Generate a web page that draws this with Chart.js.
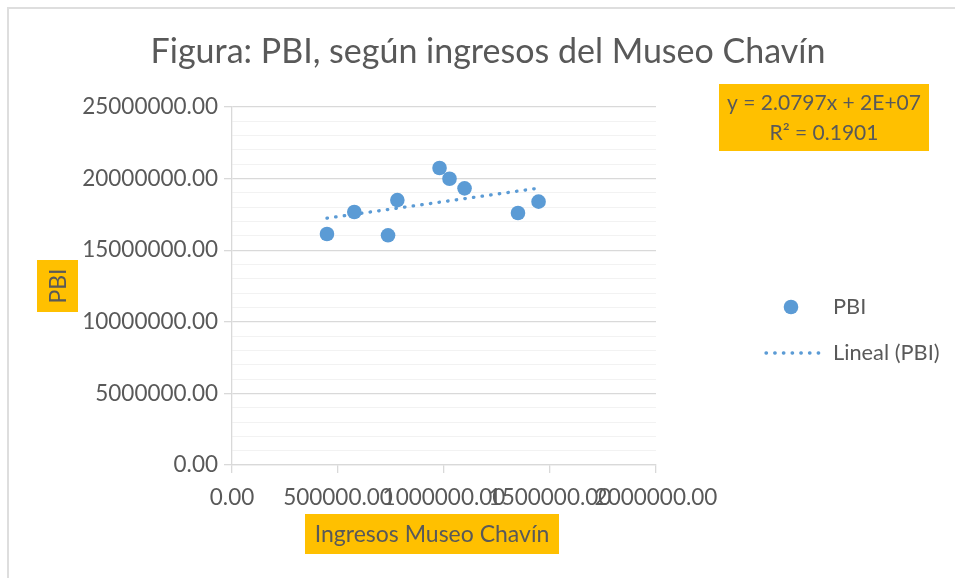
<!DOCTYPE html>
<html>
<head>
<meta charset="utf-8">
<script src="https://cdn.jsdelivr.net/npm/chart.js@4.4.1/dist/chart.umd.min.js"></script>
<style>
	html, body { margin: 0; padding: 0; background: #fff; }
	#wrap { position: relative; width: 955px; height: 578px; }
</style>
</head>
<body>
<div id="wrap"><canvas id="myChart" width="955" height="578"></canvas></div>
<script>
// ingresos del museo (x) y PBI (y)
let ingresos = [448000, 577000, 736000, 780000, 979000, 1026000, 1097000, 1349000, 1446000]
let pbi = [16130000, 17670000, 16040000, 18500000, 20740000, 19990000, 19320000, 17600000, 18390000]

let xTicks = [0, 500000, 1000000, 1500000, 2000000]
let yMajorStep = 5000000
let yMinorStep = 1000000

let titulo = 'Figura: PBI, según ingresos del Museo Chavín'
let tituloX = 'Ingresos Museo Chavín'
let tituloY = 'PBI'
let ecuacion = ['y = 2.0797x + 2E+07', 'R² = 0.1901']
let nombreSerie = 'PBI'
let nombreTendencia = 'Lineal (PBI)'

const FONT = 'Lato, "Open Sans", sans-serif'
const GRIS = '#595959'
const AZUL = '#5B9BD5'
const NARANJA = '#FFC000'

// linea de tendencia por minimos cuadrados
function regresion(xs, ys) {
	let n = xs.length
	let mx = xs.reduce((a, b) => a + b, 0) / n
	let my = ys.reduce((a, b) => a + b, 0) / n
	let sxy = 0
	let sxx = 0
	for (let i = 0; i < n; i++) {
		sxy += (xs[i] - mx) * (ys[i] - my)
		sxx += (xs[i] - mx) * (xs[i] - mx)
	}
	let m = sxy / sxx
	return { m: m, b: my - m * mx }
}

let fit = regresion(ingresos, pbi)
let xMin = Math.min(...ingresos)
let xMax = Math.max(...ingresos)
let tendencia = [
	{ x: xMin, y: fit.m * xMin + fit.b },
	{ x: xMax, y: fit.m * xMax + fit.b },
]

let puntos = ingresos.map((x, i) => ({ x: x, y: pbi[i] }))

function dotted(ctx, x1, y1, x2, y2) {
	ctx.save()
	ctx.strokeStyle = AZUL
	ctx.lineWidth = 3.3
	ctx.lineCap = 'round'
	ctx.setLineDash([0.5, 8.2])
	ctx.beginPath()
	ctx.moveTo(x1, y1)
	ctx.lineTo(x2, y2)
	ctx.stroke()
	ctx.restore()
}

const extras = {
	id: 'extras',
	beforeDraw(chart) {
		let ctx = chart.ctx
		ctx.save()
		ctx.fillStyle = '#fff'
		ctx.fillRect(0, 0, chart.width, chart.height)
		// marco del grafico
		ctx.strokeStyle = '#dedede'
		ctx.lineWidth = 2
		ctx.beginPath()
		ctx.moveTo(8, chart.height)
		ctx.lineTo(8, 8)
		ctx.lineTo(chart.width, 8)
		ctx.stroke()
		ctx.restore()
	},
	afterDraw(chart) {
		let ctx = chart.ctx
		ctx.save()
		ctx.textBaseline = 'middle'
		ctx.textAlign = 'center'

		// titulo
		ctx.fillStyle = GRIS
		ctx.font = '34px ' + FONT
		ctx.fillText(titulo, 488, 52)

		// titulo eje X
		ctx.font = '23px ' + FONT
		ctx.fillStyle = NARANJA
		ctx.fillRect(305, 514, 254, 40)
		ctx.fillStyle = GRIS
		ctx.fillText(tituloX, 432, 535)

		// titulo eje Y
		ctx.fillStyle = NARANJA
		ctx.fillRect(37, 260, 41, 52)
		ctx.save()
		ctx.translate(58, 286)
		ctx.rotate(-Math.PI / 2)
		ctx.fillStyle = GRIS
		ctx.fillText(tituloY, 0, 1)
		ctx.restore()

		// ecuacion de la tendencia
		ctx.fillStyle = NARANJA
		ctx.fillRect(719, 84, 210, 67)
		ctx.fillStyle = GRIS
		ctx.font = '21px ' + FONT
		ctx.fillText(ecuacion[0], 824, 103)
		ctx.fillText(ecuacion[1], 824, 133)

		// leyenda
		ctx.font = '21.8px ' + FONT
		ctx.textAlign = 'left'
		ctx.fillStyle = AZUL
		ctx.beginPath()
		ctx.arc(791, 307, 7.3, 0, Math.PI * 2)
		ctx.fill()
		ctx.fillStyle = GRIS
		ctx.fillText(nombreSerie, 833, 307)
		dotted(ctx, 766, 353, 823, 353)
		ctx.fillStyle = GRIS
		ctx.fillText(nombreTendencia, 833, 353)
		ctx.restore()
	},
}

var ctx = document.getElementById('myChart').getContext('2d')
var myChart = new Chart(ctx, {
	type: 'scatter',
	data: {
		datasets: [
			{
				label: nombreSerie,
				data: puntos,
				backgroundColor: AZUL,
				borderColor: AZUL,
				pointRadius: 7.3,
				pointHoverRadius: 7.3,
				borderWidth: 0,
				order: 1,
			},
			{
				label: nombreTendencia,
				type: 'line',
				data: tendencia,
				showLine: true,
				borderColor: AZUL,
				borderWidth: 3.3,
				borderDash: [0.5, 8.2],
				borderCapStyle: 'round',
				pointRadius: 0,
				fill: false,
				order: 2,
			},
		],
	},
	options: {
		responsive: false,
		animation: false,
		events: [],
		layout: { padding: { left: 0, right: 299, top: 107, bottom: 0 } },
		plugins: {
			legend: { display: false },
			tooltip: { enabled: false },
			title: { display: false },
		},
		scales: {
			x: {
				type: 'linear',
				min: 0,
				max: 2000000,
				afterBuildTicks: (scale) => {
					scale.ticks = xTicks.map((v) => ({ value: v }))
				},
				afterFit: (scale) => {
					scale.height = 113
				},
				ticks: {
					autoSkip: false,
					maxRotation: 0,
					minRotation: 0,
					padding: 11,
					color: GRIS,
					font: { family: FONT, size: 22.5 },
					callback: (v) => v.toFixed(2),
				},
				grid: {
					drawOnChartArea: false,
					drawTicks: true,
					tickLength: 8,
					color: '#d9d9d9',
					lineWidth: 1.3,
				},
				border: { display: true, color: '#d9d9d9', width: 1.3 },
			},
			y: {
				type: 'linear',
				min: 0,
				max: 25000000,
				ticks: {
					stepSize: yMinorStep,
					autoSkip: false,
					padding: 6,
					color: GRIS,
					font: { family: FONT, size: 22.5 },
					callback: (v) => (v % yMajorStep === 0 ? v.toFixed(2) : ''),
				},
				afterFit: (scale) => {
					scale.width = 232
				},
				grid: {
					tickLength: 8,
					color: (c) => (c.tick && c.tick.value % yMajorStep === 0 ? '#d9d9d9' : '#f2f2f2'),
					tickColor: (c) => (c.tick && c.tick.value % yMajorStep === 0 ? '#d9d9d9' : 'rgba(0,0,0,0)'),
					lineWidth: (c) => (c.tick && c.tick.value % yMajorStep === 0 ? 1.3 : 1),
				},
				border: { display: true, color: '#d9d9d9', width: 1.3 },
			},
		},
	},
	plugins: [extras],
})
</script>
</body>
</html>
